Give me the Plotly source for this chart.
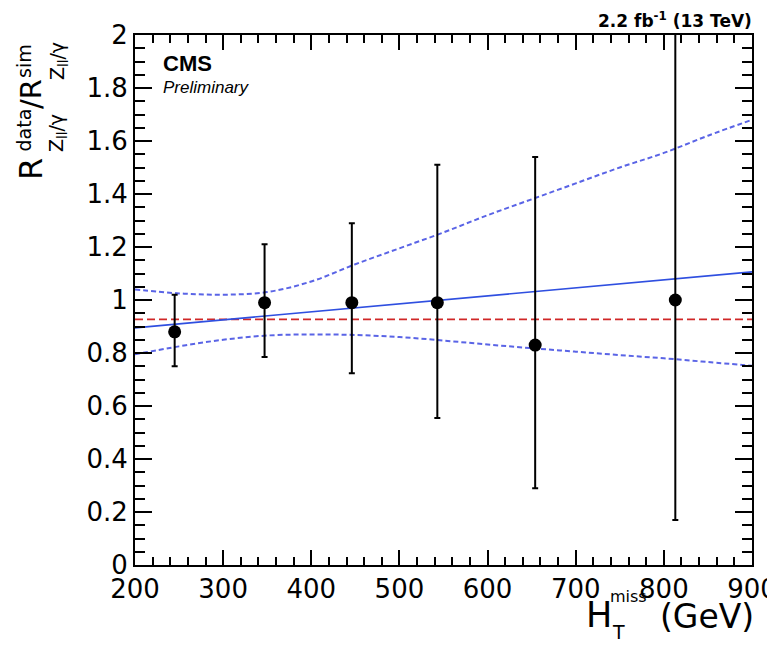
import plotly.graph_objects as go

# ---- data ----
ht_points = [245, 347, 446, 543, 654, 813]
ratio = [0.88, 0.99, 0.99, 0.99, 0.83, 1.00]
err_plus = [0.14, 0.22, 0.30, 0.52, 0.71, 1.30]
err_minus = [0.13, 0.205, 0.266, 0.435, 0.54, 0.83]

fit_x = [200, 900]
fit_y = [0.895, 1.106]

band_x = [200, 250, 300, 350, 400, 450, 500, 550, 600, 650, 700, 750, 800, 850, 900]
band_up = [1.04, 1.025, 1.02, 1.03, 1.07, 1.135, 1.195, 1.255, 1.32, 1.38, 1.44, 1.50, 1.555, 1.62, 1.68]
band_lo = [0.795, 0.825, 0.85, 0.866, 0.870, 0.868, 0.86, 0.847, 0.832, 0.818, 0.805, 0.792, 0.78, 0.766, 0.752]

const_x = [200, 900]
const_y = [0.927, 0.927]

x_ticks = [200, 300, 400, 500, 600, 700, 800, 900]
y_ticks = [0, 0.2, 0.4, 0.6, 0.8, 1, 1.2, 1.4, 1.6, 1.8, 2]
y_ticklabels = ["0", "0.2", "0.4", "0.6", "0.8", "1", "1.2", "1.4", "1.6", "1.8", "2"]

FONT = "DejaVu Sans"
OFF = 8  # default page body margin
W, H = 775 - OFF, 645 - OFF
# desired plot frame on screen: x 135..752, y 35..565
ML, MT = 135 - OFF, 35 - OFF
MR, MB = W - (752 - OFF), H - (565 - OFF)
PW, PH = W - ML - MR, H - MT - MB

fig = go.Figure()
fig.add_trace(go.Scatter(x=const_x, y=const_y, mode="lines",
                         line=dict(color="#d02828", width=1.6, dash="8px,4px"), showlegend=False))
fig.add_trace(go.Scatter(x=band_x, y=band_up, mode="lines", line_shape="spline",
                         line=dict(color="#5a64e6", width=2, dash="5px,3px"), showlegend=False))
fig.add_trace(go.Scatter(x=band_x, y=band_lo, mode="lines", line_shape="spline",
                         line=dict(color="#5a64e6", width=2, dash="5px,3px"), showlegend=False))
fig.add_trace(go.Scatter(x=fit_x, y=fit_y, mode="lines",
                         line=dict(color="#2f4fe0", width=1.6), showlegend=False))
fig.add_trace(go.Scatter(x=ht_points, y=ratio, mode="markers",
                         marker=dict(color="black", size=13),
                         error_y=dict(type="data", symmetric=False, array=err_plus,
                                      arrayminus=err_minus, color="black", thickness=2, width=3),
                         showlegend=False))

axis_common = dict(showline=True, linecolor="black", linewidth=2, mirror="allticks",
                   ticks="inside", tickcolor="black", tickwidth=2, showgrid=False,
                   zeroline=False, ticklabeloverflow="allow",
                   tickfont=dict(family=FONT, size=26, color="black"))

fig.update_xaxes(range=[200, 900], tickvals=x_ticks, ticktext=[str(v) for v in x_ticks], ticklen=15,
                 minor=dict(dtick=20, tick0=200, ticklen=8, tickcolor="black", tickwidth=1.5, ticks="inside"),
                 **axis_common)
fig.update_yaxes(range=[0, 2], tickvals=y_ticks, ticktext=y_ticklabels, ticklen=17,
                 minor=dict(dtick=0.05, tick0=0, ticklen=10, tickcolor="black", tickwidth=1.5, ticks="inside"),
                 **axis_common)


def px(xp, yp):
    """screen pixel -> paper coords"""
    return (xp - OFF - ML) / PW, (H - MB - (yp - OFF)) / PH


def txt(text, xp, yp, size, xanchor="left", yanchor="middle", family=FONT, angle=0):
    a, b = px(xp, yp)
    return dict(text=text, x=a, y=b, xref="paper", yref="paper", textangle=angle,
                xanchor=xanchor, yanchor=yanchor, showarrow=False,
                font=dict(family=family, size=size, color="black"))


annotations = [
    txt("<b>CMS</b>", 161, 64, 22, family="Liberation Sans"),
    txt("<i>Preliminary</i>", 161, 88, 17, family="Liberation Sans"),
    txt("<b>2.2 fb<sup>-1</sup> (13 TeV)</b>", 754, 20, 17, xanchor="right"),
    # x title: H with stacked sup/sub
    txt("H", 584, 615, 35),
    txt("miss", 608, 596, 16),
    txt("T", 610, 632, 19),
    txt("(GeV)", 756, 616, 33, xanchor="right"),
    # y title pieces (rotated)
    txt("R", 31, 182, 32, xanchor="center", yanchor="bottom", angle=-90),
    txt("data", 24, 154, 19, xanchor="center", yanchor="bottom", angle=-90),
    txt("Z<sub>ll</sub>/γ", 58, 154, 19, xanchor="center", yanchor="bottom", angle=-90),
    txt("/R", 31, 111, 29, xanchor="center", yanchor="bottom", angle=-90),
    txt("sim", 24, 80, 19, xanchor="center", yanchor="bottom", angle=-90),
    txt("Z<sub>ll</sub>/γ", 58, 82, 19, xanchor="center", yanchor="bottom", angle=-90),
]

fig.update_layout(width=W, height=H, margin=dict(l=ML, r=MR, t=MT, b=MB, autoexpand=False),
                  plot_bgcolor="white", paper_bgcolor="white",
                  annotations=annotations, showlegend=False)

fig.write_html("out.html")
